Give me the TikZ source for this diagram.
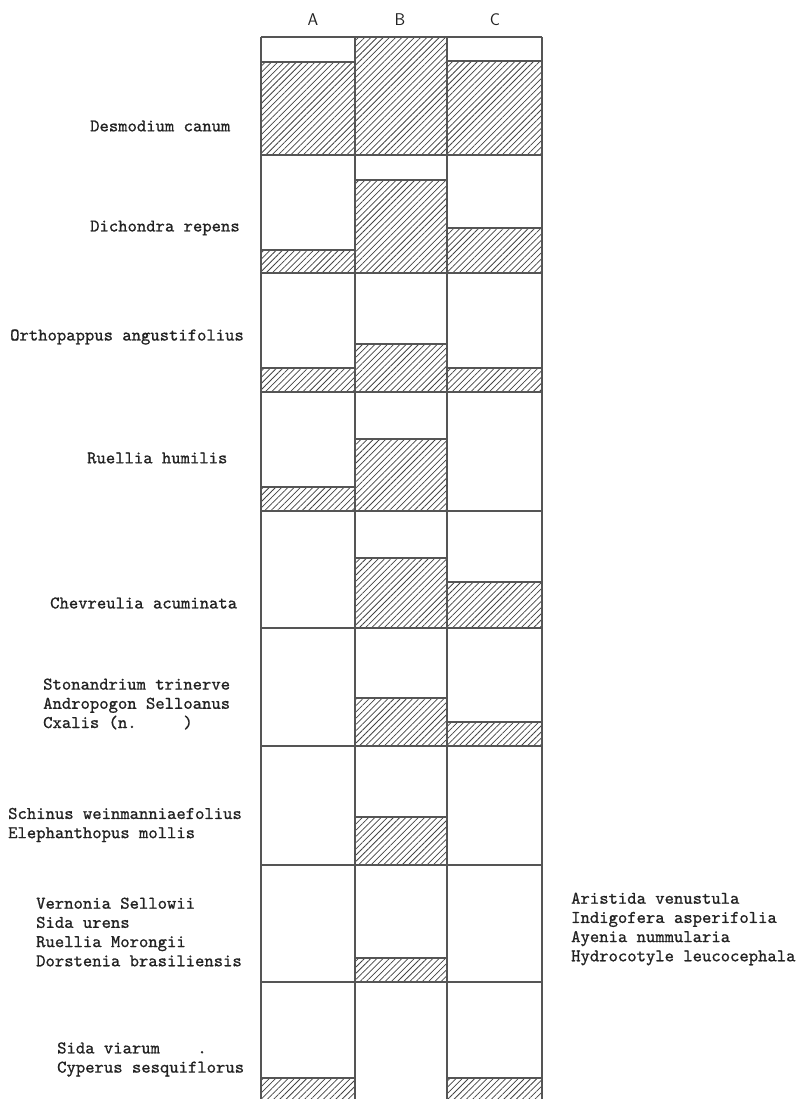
\documentclass[tikz,border=0pt]{standalone}
\usepackage{fontspec}
\newfontfamily\typew{lmmono10-regular.otf}[FakeBold=0.9]
\usetikzlibrary{patterns.meta}
\definecolor{ink}{HTML}{555555}
\definecolor{txt}{HTML}{222222}
\tikzset{
  grid/.style={draw=ink, line width=1.4pt},
  hatchbox/.style={pattern={Lines[angle=45,distance=4.4pt,line width=0.75pt]}, pattern color=ink!80!black},
  species/.style={font=\typew\fontsize{17.8}{19.2}\selectfont, text=txt, inner sep=0pt, align=left},
  collabel/.style={font=\sffamily\fontsize{17}{20}\selectfont, text=txt, inner sep=0pt}
}
\begin{document}
\begin{tikzpicture}[x=1pt,y=-1pt]
\useasboundingbox (0,0) rectangle (798,1099);
\fill[white] (0,0) rectangle (798,1099);
% hatched portions  x1/x2/top/bottom
\foreach \xa/\xb/\ta/\tb in {
  261/355/62/155, 261/355/250/273, 261/355/368/392, 261/355/487/511, 261/355/1078/1102,
  355/447/37/155, 355/447/180/273, 355/447/344/392, 355/447/439/511, 355/447/558/628,
  355/447/698/746, 355/447/817/865, 355/447/958/982,
  447/542/61/155, 447/542/228/273, 447/542/368/392, 447/542/582/628, 447/542/722/746,
  447/542/1078/1102}{
  \fill[hatchbox] (\xa,\ta) rectangle (\xb,\tb);
  \draw[grid] (\xa,\ta) -- (\xb,\ta);
}
% grid
\foreach \x in {261,355,447,542} \draw[grid] (\x,37) -- (\x,1102);
\foreach \y in {37,155,273,392,511,628,746,865,982} \draw[grid] (261,\y) -- (542,\y);
% column labels
\node[collabel] (lA) at (313,20) {A};
\node[collabel] (lB) at (400,20) {B};
\node[collabel] (lC) at (495,20) {C};
% species labels
\node[species, anchor=west] (s1) at (90,126) {Desmodium canum};
\node[species, anchor=west] (s2) at (90,228) {Dichondra repens};
\node[species, anchor=west] (s3) at (10,337) {Orthopappus angustifolius};
\node[species, anchor=west] (s4) at (87,458) {Ruellia humilis};
\node[species, anchor=west] (s5) at (50,603) {Chevreulia acuminata};
\node[species, anchor=west] (s6) at (43,704) {Stonandrium trinerve\\Andropogon Selloanus\\Cxalis (n.\ \ \ \ \ )};
\node[species, anchor=west] (s7) at (8,825) {Schinus weinmanniaefolius\\Elephanthopus mollis};
\node[species, anchor=west] (s8) at (36,932) {Vernonia Sellowii\\Sida urens\\Ruellia Morongii\\Dorstenia brasiliensis};
\node[species, anchor=west] (s9) at (57,1059.5) {Sida viarum\ \ \ \ .\\Cyperus sesquiflorus};
\node[species, anchor=west] (s10) at (571,929) {Aristida venustula\\Indigofera asperifolia\\Ayenia nummularia\\Hydrocotyle leucocephala};
\end{tikzpicture}
\end{document}
